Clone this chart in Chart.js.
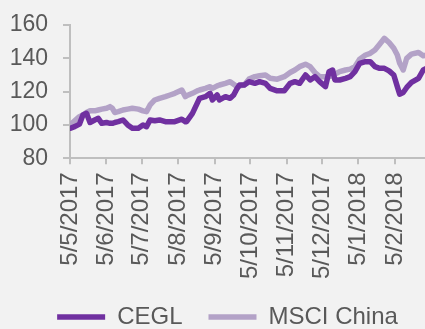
<!DOCTYPE html>
<html>
<head>
<meta charset="utf-8">
<script src="https://cdn.jsdelivr.net/npm/chart.js@4"></script>
<style>
  html, body { margin: 0; padding: 0; background: #f2f2f2; overflow: hidden; }
  #wrap { width: 445px; height: 329px; }
</style>
</head>
<body>
<div id="wrap"><canvas id="c" width="445" height="329"></canvas></div>
<script>
// Days since 5 May 2017
const dayOffsets = [0,4,8,11,14,17,21,24,27,31,34,36,38,41,45,49,53,58,62,65,68,72,76,81,85,89,95,98,99,104,108,110,115,119,121,125,127,132,136,139,142,144,148,152,157,161,166,170,176,182,187,191,195,200,204,208,212,217,220,223,225,229,234,238,242,246,251,255,259,263,267,271,275,278,280,283,286,290,296,300,303];
const ceglValues = [98,99,100.5,106,107,101.5,103,104,101,101.5,101,101,101.5,102,103,100,98,98,100,99,103,102.5,103,102,102,102,103.5,102,102,107,113,116,117,119,115,118,115,117,116,118,122,124,124,126,125,126,125,122,120.5,120.5,125,126,125,130,127,129,126,123,132,133,127,127,128,129,132,137,138,138,135,134,134,132.5,130,123,118.5,119.5,122.5,125.5,128,133,134];
const msciValues = [100,102.5,105,106,107.5,108.5,108.5,109,109.5,110,111,110,107.5,108,109,109.5,110,109.5,108.5,108,112,115,116,117,118,119,121,117,117.5,119,120.5,121,122,123,122,123.5,124,125,126,124.5,123,123.5,124,127.5,129,129.5,130,128,127.5,129,131.5,133,135,136.5,135,131.5,129,129,129,129.5,130.5,132,133,133.5,135,139.5,142,143,145,148.5,152,149.5,146,142,137,133,140,142.5,143.5,141.5,142];
const tickDays = [0,31,61,92,123,153,184,214,245,276];
const tickLabels = ['5/5/2017','5/6/2017','5/7/2017','5/8/2017','5/9/2017','5/10/2017','5/11/2017','5/12/2017','5/1/2018','5/2/2018'];
const yTicks = [80,100,120,140,160];
const seriesNames = ['CEGL','MSCI China'];

const textColor = '#595959';
const axisColor = '#bfbfbf';
const fontFamily = '"Liberation Sans", Arial, sans-serif';

function pts(vals) { return dayOffsets.map((d, i) => ({x: d, y: vals[i]})); }

new Chart(document.getElementById('c'), {
  type: 'line',
  data: {
    datasets: [
      { label: seriesNames[0], data: pts(ceglValues), borderColor: '#7030a0', backgroundColor: '#7030a0',
        borderWidth: 5.5, pointRadius: 0, tension: 0, borderCapStyle: 'round', borderJoinStyle: 'round' },
      { label: seriesNames[1], data: pts(msciValues), borderColor: '#b3a2c7', backgroundColor: '#b3a2c7',
        borderWidth: 5.5, pointRadius: 0, tension: 0, borderCapStyle: 'round', borderJoinStyle: 'round' }
    ]
  },
  options: {
    responsive: false,
    animation: false,
    events: [],
    layout: { padding: { left: 10, right: 0, top: 5, bottom: -10 } },
    plugins: {
      tooltip: { enabled: false },
      legend: {
        position: 'bottom',
        labels: {
          usePointStyle: true,
          pointStyle: 'line',
          pointStyleWidth: 48,
          color: textColor,
          padding: 26,
          font: { family: fontFamily, size: 24 }
        }
      }
    },
    scales: {
      x: {
        type: 'linear',
        min: 0,
        max: 318.5,
        afterBuildTicks: (s) => { s.ticks = tickDays.map(v => ({value: v})); },
        afterFit: (s) => { s.height = 120.7; },
        ticks: {
          autoSkip: false,
          minRotation: 90,
          maxRotation: 90,
          padding: 8,
          color: textColor,
          font: { family: fontFamily, size: 24 },
          callback: (v) => { const i = tickDays.indexOf(v); return i >= 0 ? tickLabels[i] : ''; }
        },
        grid: { drawOnChartArea: false, tickLength: 6, color: axisColor, lineWidth: 2 },
        border: { color: axisColor, width: 2 }
      },
      y: {
        min: 80,
        max: 160,
        afterBuildTicks: (s) => { s.ticks = yTicks.map(v => ({value: v})); },
        afterFit: (s) => { s.width = 60; s.paddingTop = 25; s.paddingBottom = 14; },
        ticks: {
          padding: 15,
          color: textColor,
          font: { family: fontFamily, size: 23 }
        },
        grid: { drawOnChartArea: false, tickLength: 7, color: axisColor, lineWidth: 2 },
        border: { color: axisColor, width: 2 }
      }
    }
  }
});
</script>
</body>
</html>
